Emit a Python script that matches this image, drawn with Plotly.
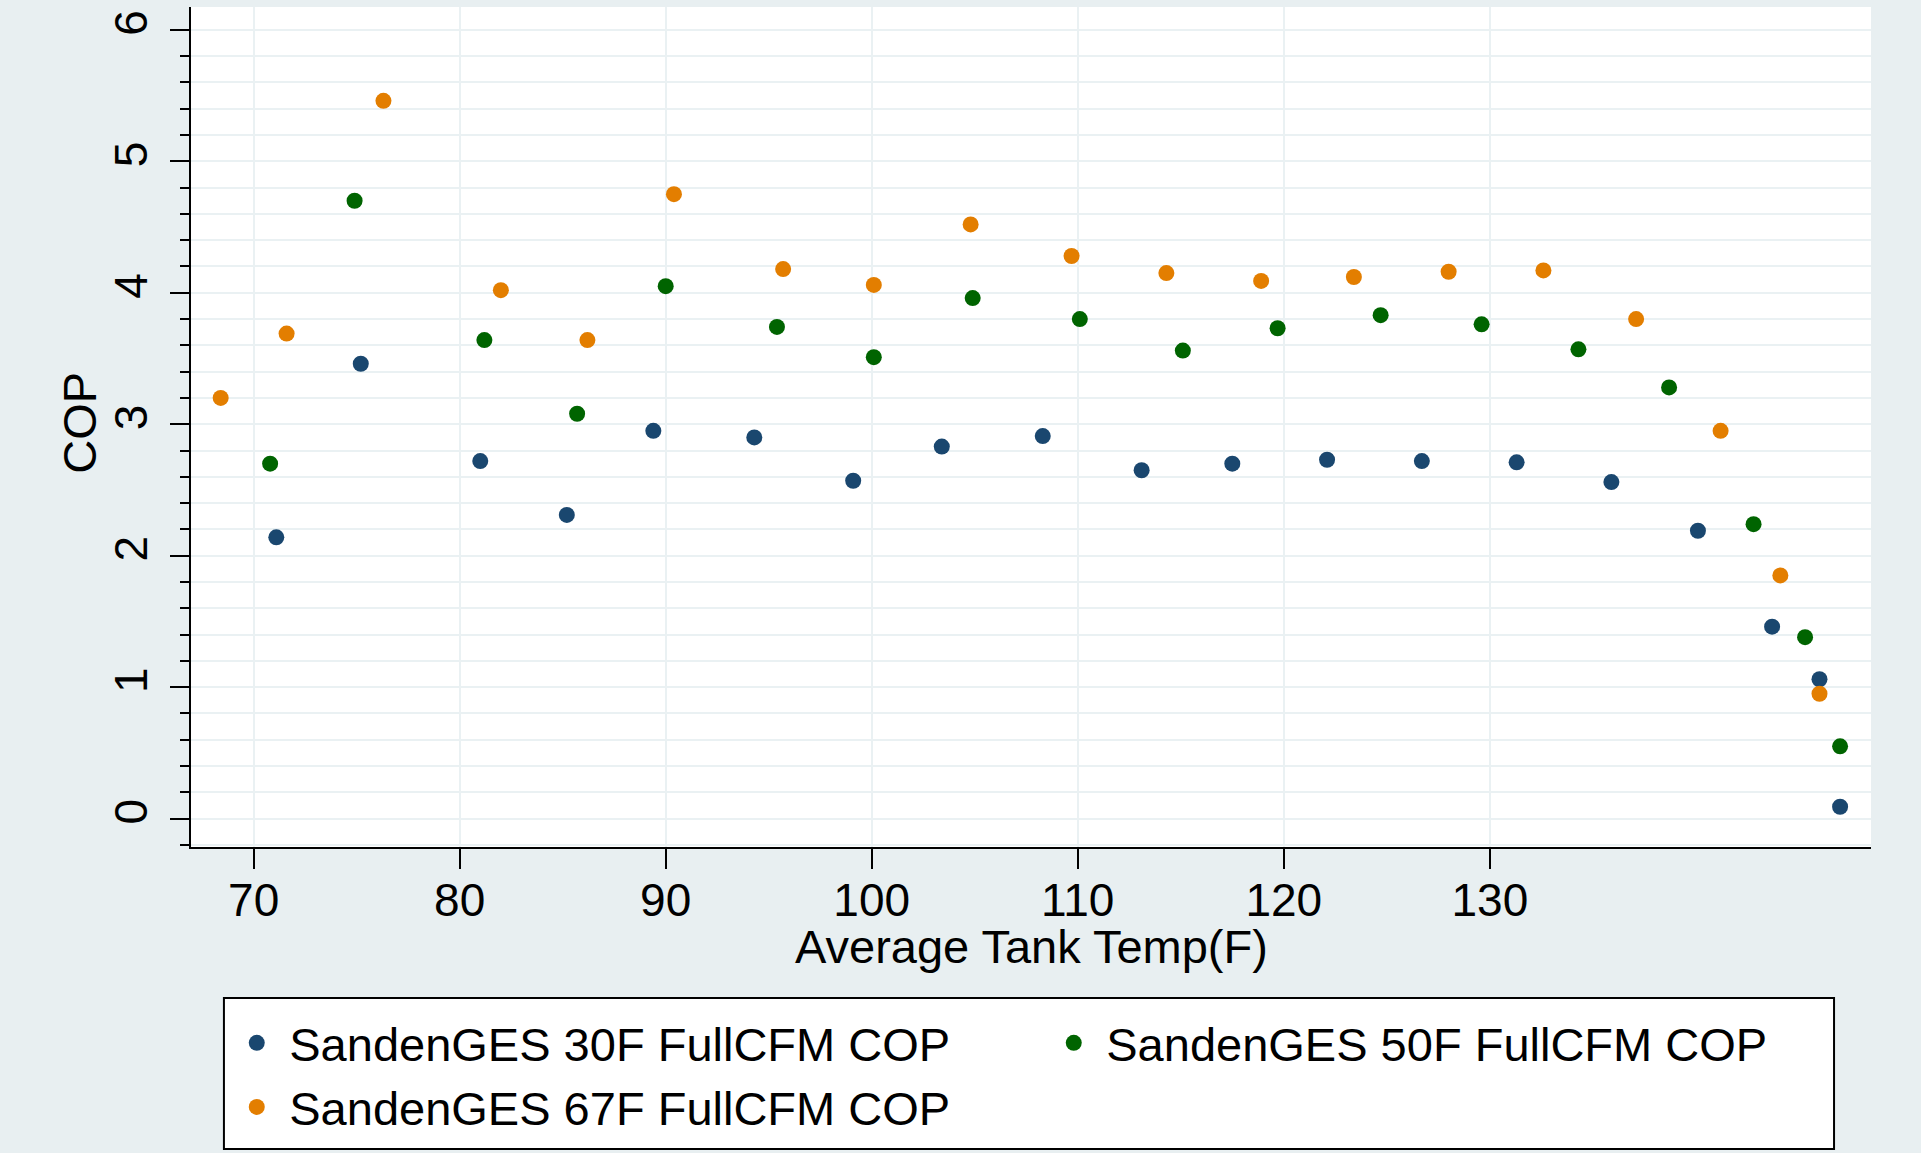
"""COP vs average tank temperature, Stata-style scatter."""

import plotly.graph_objects as go

# Series: average tank temperature (F) and COP
temp_30f = [71.1, 75.2, 81.0, 85.2, 89.4, 94.3, 99.1, 103.4, 108.3, 113.1,
            117.5, 122.1, 126.7, 131.3, 135.9, 140.1, 143.7, 146.0, 147.0]
cop_30f = [2.14, 3.46, 2.72, 2.31, 2.95, 2.90, 2.57, 2.83, 2.91, 2.65,
           2.70, 2.73, 2.72, 2.71, 2.56, 2.19, 1.46, 1.06, 0.09]

temp_50f = [70.8, 74.9, 81.2, 85.7, 90.0, 95.4, 100.1, 104.9, 110.1, 115.1,
            119.7, 124.7, 129.6, 134.3, 138.7, 142.8, 145.3, 147.0]
cop_50f = [2.70, 4.70, 3.64, 3.08, 4.05, 3.74, 3.51, 3.96, 3.80, 3.56,
           3.73, 3.83, 3.76, 3.57, 3.28, 2.24, 1.38, 0.55]

temp_67f = [68.4, 71.6, 76.3, 82.0, 86.2, 90.4, 95.7, 100.1, 104.8, 109.7,
            114.3, 118.9, 123.4, 128.0, 132.6, 137.1, 141.2, 144.1, 146.0]
cop_67f = [3.20, 3.69, 5.46, 4.02, 3.64, 4.75, 4.18, 4.06, 4.52, 4.28,
           4.15, 4.09, 4.12, 4.16, 4.17, 3.80, 2.95, 1.85, 0.95]

series = [
    ("SandenGES 30F FullCFM COP", temp_30f, cop_30f, "#1A476F"),
    ("SandenGES 50F FullCFM COP", temp_50f, cop_50f, "#006400"),
    ("SandenGES 67F FullCFM COP", temp_67f, cop_67f, "#E37E00"),
]

x_ticks = [70, 80, 90, 100, 110, 120, 130]
y_ticks = [0, 1, 2, 3, 4, 5, 6]

BG = "#E8EFF1"
GRID = "#EAF1F3"
FONT = "Arial, Liberation Sans, sans-serif"

fig = go.Figure()
for name, xs, ys, color in series:
    fig.add_trace(go.Scatter(
        x=xs, y=ys, mode="markers", name=name,
        marker=dict(color=color, size=16),
    ))

# legend frame (Stata-style white box with black border)
fig.add_shape(
    type="rect", xref="paper", yref="paper",
    x0=0.0196, x1=0.978, y0=-0.3595, y1=-0.1798,
    fillcolor="white", line=dict(color="black", width=2), layer="below",
)

# axis titles placed as annotations for exact positioning
fig.add_annotation(
    text="Average Tank Temp(F)", xref="paper", yref="paper",
    x=0.5, y=-0.119, xanchor="center", yanchor="middle",
    showarrow=False, font=dict(size=47),
)
fig.add_annotation(
    text="COP", xref="paper", yref="paper",
    x=-0.0661, y=0.505, xanchor="center", yanchor="middle",
    textangle=-90, showarrow=False, font=dict(size=47),
)

fig.update_layout(
    width=1921,
    height=1153,
    paper_bgcolor=BG,
    plot_bgcolor="white",
    font=dict(family=FONT, size=46, color="black"),
    margin=dict(l=191, r=50, t=7, b=306),
    showlegend=True,
    legend=dict(
        orientation="h",
        x=0.0198, xanchor="left",
        y=-0.189, yanchor="top",
        bgcolor="rgba(0,0,0,0)",
        borderwidth=0,
        font=dict(size=47),
        entrywidth=747,
        itemwidth=55,
    ),
)

fig.update_xaxes(
    range=[66.96, 148.5],
    tickvals=x_ticks,
    ticks="outside", ticklen=20, tickwidth=2, tickcolor="black",
    ticklabelstandoff=-8,
    showgrid=True, gridcolor=GRID, gridwidth=2,
    showline=True, linecolor="black", linewidth=2,
    zeroline=False,
)

fig.update_yaxes(
    range=[-0.216, 6.174],
    tickvals=y_ticks,
    tickangle=-90,
    ticks="outside", ticklen=19, tickwidth=2, tickcolor="black",
    ticklabelstandoff=5,
    showgrid=True, gridcolor=GRID, gridwidth=2,
    showline=True, linecolor="black", linewidth=2,
    zeroline=False,
    minor=dict(dtick=0.2, ticks="outside", ticklen=9, tickwidth=2,
               tickcolor="black", showgrid=True, gridcolor=GRID, gridwidth=2),
)

fig.write_html(
    "out.html",
    config={"displayModeBar": False},
    post_script="document.body.style.margin='0';",
)
